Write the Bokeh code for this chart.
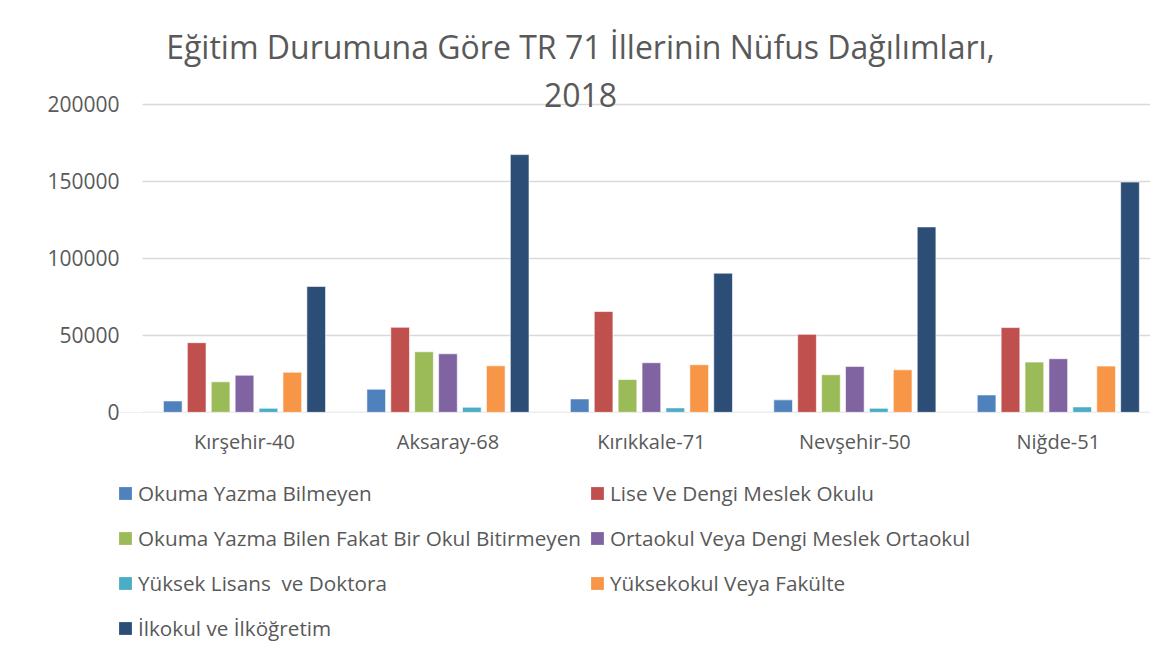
from bokeh.plotting import figure
from bokeh.layouts import column
from bokeh.models import (ColumnDataSource, Legend, LegendItem, Label, FixedTicker,
                          Range1d, BoxAnnotation)
from bokeh.transform import dodge
from bokeh.embed import file_html
from bokeh.resources import INLINE

cities = ["Kırşehir-40", "Aksaray-68", "Kırıkkale-71", "Nevşehir-50", "Niğde-51"]
series_names = [
    "Okuma Yazma Bilmeyen",
    "Lise Ve Dengi Meslek Okulu",
    "Okuma Yazma Bilen Fakat Bir Okul Bitirmeyen",
    "Ortaokul Veya Dengi Meslek Ortaokul",
    "Yüksek Lisans  ve Doktora",
    "Yüksekokul Veya Fakülte",
    "İlkokul ve İlköğretim",
]
okuma_yazma_bilmeyen = [7400, 15000, 8700, 8100, 11300]
lise = [45200, 55200, 65400, 50600, 55000]
okuma_yazma_bilen = [19800, 39300, 21300, 24400, 32600]
ortaokul = [24100, 38000, 32200, 29800, 34800]
yuksek_lisans = [2600, 3300, 2900, 2600, 3500]
yuksekokul = [26000, 30200, 30900, 27600, 30000]
ilkokul = [81700, 167200, 90300, 120300, 149400]
series_values = [okuma_yazma_bilmeyen, lise, okuma_yazma_bilen, ortaokul,
                 yuksek_lisans, yuksekokul, ilkokul]
colors = ["#4F81BD", "#C0504D", "#9BBB59", "#8064A2", "#4BACC6", "#F79646", "#2C4D75"]
y_ticks = [0, 50000, 100000, 150000, 200000]

TEXT = "#595959"
FONT = "Open Sans"
W = 1150

data = {"x": list(range(len(cities)))}
for i, vals in enumerate(series_values):
    data[f"s{i}"] = vals
source = ColumnDataSource(data)

X0 = -0.6193
p = figure(width=W, height=463, output_backend="svg", toolbar_location=None,
           x_range=Range1d(X0, 4.4532), y_range=Range1d(-100, 263943),
           min_border_left=118, min_border_right=0, min_border_top=5,
           min_border_bottom=51)
p.outline_line_color = None

pitch = 0.1175
bar_w = 0.0919


def add_bars(fig, outline=True):
    rs = []
    for i in range(len(series_names)):
        r = fig.vbar(x=dodge("x", (i - 3) * pitch), top=f"s{i}", width=bar_w, bottom=0,
                     source=source, fill_color=colors[i],
                     line_color="white" if outline else None,
                     line_alpha=0.6, line_width=1)
        rs.append(r)
    return rs


add_bars(p)

# axes
p.xaxis.ticker = FixedTicker(ticks=list(range(len(cities))))
p.xaxis.major_label_overrides = {i: c for i, c in enumerate(cities)}
p.xaxis.major_label_text_font = FONT
p.xaxis.major_label_text_font_size = "20px"
p.xaxis.major_label_text_color = TEXT
p.xaxis.major_tick_line_color = None
p.xaxis.minor_tick_line_color = None
p.xaxis.major_tick_out = 0
p.xaxis.major_label_standoff = 15
p.xaxis.axis_line_color = None

p.yaxis.ticker = FixedTicker(ticks=y_ticks)
p.yaxis.major_label_overrides = {t: str(t) for t in y_ticks}
p.yaxis.major_label_text_font = FONT
p.yaxis.major_label_text_font_size = "21px"
p.yaxis.major_label_text_color = TEXT
p.yaxis.major_tick_line_color = None
p.yaxis.minor_tick_line_color = None
p.yaxis.major_tick_out = 0
p.yaxis.major_label_standoff = -1
p.yaxis.axis_line_color = None

p.xgrid.grid_line_color = None
p.ygrid.grid_line_color = "#d9d9d9"
p.ygrid.grid_line_width = 1.5

# gap between tick labels and the start of the gridlines
p.add_layout(BoxAnnotation(right=-0.5013, fill_color="white", fill_alpha=1,
                           line_alpha=0, level="underlay"))

# title (two lines), inside the frame
for txt, yv in [("Eğitim Durumuna Göre TR 71 İllerinin Nüfus Dağılımları,", 237354),
                ("2018", 205577)]:
    p.add_layout(Label(x=1.6516, y=yv, text=txt, text_align="center",
                       text_baseline="middle", text_font=FONT,
                       text_font_size="32px", text_color=TEXT))

# legend strip below the chart (bars kept out of its view, only their legend swatches show)
LH = 192
q = figure(width=W, height=LH, output_backend="svg", toolbar_location=None,
           x_range=Range1d(-20000, -20000 + W), y_range=Range1d(0, LH),
           x_axis_location=None, y_axis_location=None,
           min_border_left=118, min_border_right=0, min_border_top=0, min_border_bottom=0)
q.outline_line_color = None
q.grid.visible = False
legend_renderers = add_bars(q, outline=False)


def make_legend(idx, loc):
    items = [LegendItem(label=series_names[i], renderers=[legend_renderers[i]]) for i in idx]
    lg = Legend(items=items, location=loc, orientation="vertical",
                glyph_width=16, glyph_height=16, label_standoff=5,
                label_text_font=FONT, label_text_font_size="20.7px",
                label_text_color=TEXT, padding=0, margin=0, spacing=17,
                border_line_alpha=0, background_fill_alpha=0)
    q.add_layout(lg, "center")


make_legend([0, 2, 4, 6], (-1, 13))
make_legend([1, 3, 5], (471, 58))

layout = column(p, q, spacing=0)
open("out.html", "w").write(file_html(layout, INLINE))
